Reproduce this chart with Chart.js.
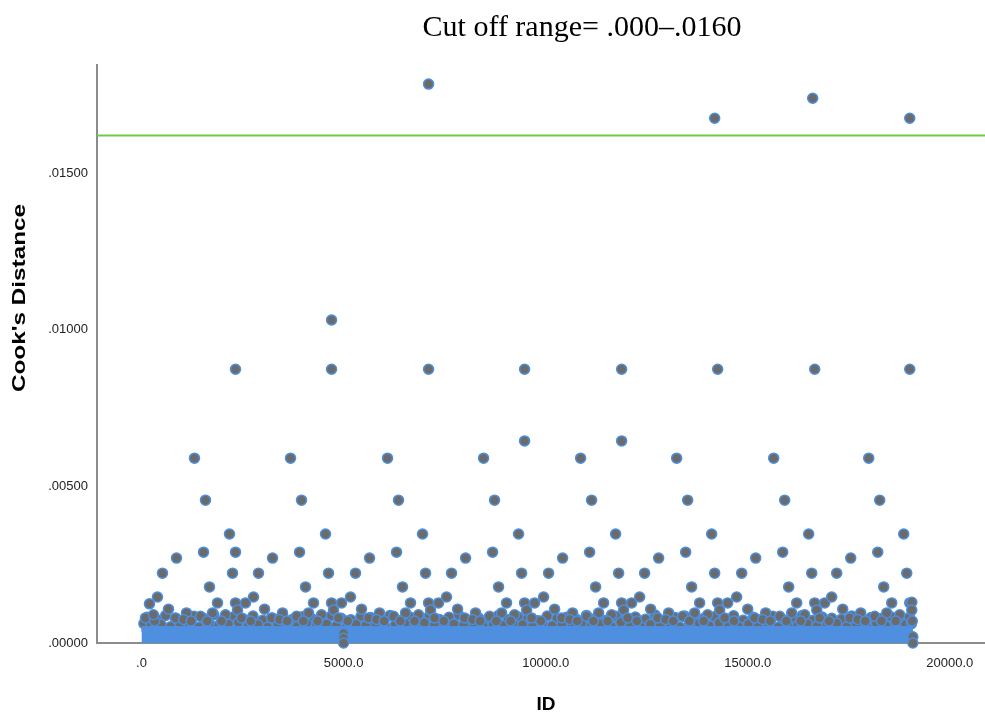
<!DOCTYPE html>
<html>
<head>
<meta charset="utf-8">
<title>Cook's Distance</title>
<script src="https://cdn.jsdelivr.net/npm/chart.js@4.4.1/dist/chart.umd.min.js"></script>
<style>
    html, body { margin: 0; padding: 0; background: #fff; }
    #wrap { width: 985px; height: 712px; }
</style>
</head>
<body>
<div id="wrap"><canvas id="cooks-chart" width="985" height="712"></canvas></div>
<script>
// Text
const chartTitle = 'Cut off range= .000\u2013.0160';
const xTitle = 'ID';
const yTitle = "Cook's Distance";

// Axis ticks
const xTickValues = [0, 5000, 10000, 15000, 20000];
const xTickLabels = ['.0', '5000.0', '10000.0', '15000.0', '20000.0'];
const yTickValues = [0, 0.005, 0.010, 0.015];
const yTickLabels = ['.00000', '.00500', '.01000', '.01500'];

// Cut off line
const cutoffIds = [-1100, 20870];
const cutoffValue = 0.0162;

// Largest cases
const outlierIds = [7103, 14182, 16607, 19008, 4703, 9479, 11880];
const outlierValues = [0.01784, 0.01675, 0.01739, 0.01675, 0.01031, 0.00645, 0.00645];

// Upper cases, one row per repeating block
const caseIds = [
    2327, 1312, 1584, 2178, 1535, 867, 520, 2253, 1683, 396, 1881, 2327, 2575, 669, 1114, 1758, 2377, 842, 1461, 2079, 99, 1040, 1980, 1227, 327, 1627,
    4703, 3688, 3960, 4554, 3911, 3243, 2896, 4629, 4059, 2772, 4257, 4703, 4951, 3045, 3490, 4134, 4753, 3218, 3837, 4455, 2475, 3416, 4356, 3603, 2703, 4003,
    7103, 6088, 6360, 6954, 6311, 5643, 5296, 7029, 6459, 5172, 6657, 7103, 7351, 5445, 5890, 6534, 7153, 5618, 6237, 6855, 4875, 5816, 6756, 6003, 5103, 6403,
    9479, 8464, 8736, 9330, 8687, 8019, 7672, 9405, 8835, 7548, 9033, 9479, 9727, 7821, 8266, 8910, 9529, 7994, 8613, 9231, 7251, 8192, 9132, 8379, 7479, 8779,
    11880, 10865, 11137, 11731, 11088, 10420, 10073, 11806, 11236, 9949, 11434, 11880, 12128, 10222, 10667, 11311, 11930, 10395, 11014, 11632, 9652, 10593, 11533, 10780, 9880, 11180,
    14256, 13241, 13513, 14107, 13464, 12796, 12449, 14182, 13612, 12325, 13810, 14256, 14504, 12598, 13043, 13687, 14306, 12771, 13390, 14008, 12028, 12969, 13909, 13156, 12256, 13556,
    16657, 15642, 15914, 16508, 15865, 15197, 14850, 16583, 16013, 14726, 16211, 16657, 16905, 14999, 15444, 16088, 16707, 15172, 15791, 16409, 14429, 15370, 16310, 15557, 14657, 15957,
    19008, 17993, 18265, 18859, 18216, 17548, 17201, 18934, 18364, 17077, 18562, 19008, 19060, 17350, 17795, 18439, 19058, 17523, 18142, 18760, 16780, 17721, 18661, 17908, 17008, 18308,
    198, 297, 2327, 19070
];
const caseValues = [
    0.00874, 0.00590, 0.00456, 0.00348, 0.00290, 0.00271, 0.00223, 0.00223, 0.00179, 0.00147, 0.00128, 0.00128, 0.00128, 0.00108, 0.00096, 0.00096, 0.00105, 0.00080, 0.00085, 0.00090, 0.00080, 0.00075, 0.00070, 0.00070, 0.00070, 0.00070,
    0.00874, 0.00590, 0.00456, 0.00348, 0.00290, 0.00271, 0.00223, 0.00223, 0.00179, 0.00147, 0.00128, 0.00128, 0.00128, 0.00108, 0.00096, 0.00096, 0.00105, 0.00080, 0.00085, 0.00090, 0.00080, 0.00075, 0.00070, 0.00070, 0.00070, 0.00070,
    0.00874, 0.00590, 0.00456, 0.00348, 0.00290, 0.00271, 0.00223, 0.00223, 0.00179, 0.00147, 0.00128, 0.00128, 0.00128, 0.00108, 0.00096, 0.00096, 0.00105, 0.00080, 0.00085, 0.00090, 0.00080, 0.00075, 0.00070, 0.00070, 0.00070, 0.00070,
    0.00874, 0.00590, 0.00456, 0.00348, 0.00290, 0.00271, 0.00223, 0.00223, 0.00179, 0.00147, 0.00128, 0.00128, 0.00128, 0.00108, 0.00096, 0.00096, 0.00105, 0.00080, 0.00085, 0.00090, 0.00080, 0.00075, 0.00070, 0.00070, 0.00070, 0.00070,
    0.00874, 0.00590, 0.00456, 0.00348, 0.00290, 0.00271, 0.00223, 0.00223, 0.00179, 0.00147, 0.00128, 0.00128, 0.00128, 0.00108, 0.00096, 0.00096, 0.00105, 0.00080, 0.00085, 0.00090, 0.00080, 0.00075, 0.00070, 0.00070, 0.00070, 0.00070,
    0.00874, 0.00590, 0.00456, 0.00348, 0.00290, 0.00271, 0.00223, 0.00223, 0.00179, 0.00147, 0.00128, 0.00128, 0.00128, 0.00108, 0.00096, 0.00096, 0.00105, 0.00080, 0.00085, 0.00090, 0.00080, 0.00075, 0.00070, 0.00070, 0.00070, 0.00070,
    0.00874, 0.00590, 0.00456, 0.00348, 0.00290, 0.00271, 0.00223, 0.00223, 0.00179, 0.00147, 0.00128, 0.00128, 0.00128, 0.00108, 0.00096, 0.00096, 0.00105, 0.00080, 0.00085, 0.00090, 0.00080, 0.00075, 0.00070, 0.00070, 0.00070, 0.00070,
    0.00874, 0.00590, 0.00456, 0.00348, 0.00290, 0.00271, 0.00223, 0.00223, 0.00179, 0.00147, 0.00128, 0.00128, 0.00130, 0.00108, 0.00096, 0.00096, 0.00105, 0.00080, 0.00085, 0.00090, 0.00080, 0.00075, 0.00070, 0.00070, 0.00070, 0.00070,
    0.00125, 0.00090, 0.00290, 0.00070
];

// Low cases sitting on the dense band
const lowIds = [60, 230, 480, 720, 950, 1190, 1420, 1680, 1910, 2150, 2400, 2640, 2880, 3120, 3370, 3600, 3850, 4090, 4330, 4580,
    4820, 5060, 5310, 5550, 5790, 6030, 6280, 6520, 6760, 7000, 7250, 7490, 7730, 7970, 8220, 8460, 8700, 8950, 9190, 9430,
    9670, 9920, 10160, 10400, 10650, 10890, 11130, 11370, 11620, 11860, 12100, 12350, 12590, 12830, 13070, 13320, 13560, 13800, 14050, 14290,
    14530, 14770, 15020, 15260, 15500, 15750, 15990, 16230, 16470, 16720, 16960, 17200, 17450, 17690, 17930, 18180, 18420, 18660, 18900, 19050];
const lowValues = [0.00062, 0.00055, 0.00060, 0.00052, 0.00064, 0.00058, 0.00050, 0.00063, 0.00056, 0.00061, 0.00066, 0.00054, 0.00059, 0.00050, 0.00062, 0.00057, 0.00053, 0.00064, 0.00058, 0.00061,
    0.00055, 0.00049, 0.00060, 0.00056, 0.00063, 0.00052, 0.00059, 0.00062, 0.00054, 0.00065, 0.00058, 0.00051, 0.00061, 0.00057, 0.00063, 0.00053, 0.00060, 0.00056, 0.00064, 0.00059,
    0.00052, 0.00062, 0.00055, 0.00060, 0.00050, 0.00063, 0.00057, 0.00061, 0.00054, 0.00066, 0.00058, 0.00052, 0.00060, 0.00056, 0.00063, 0.00051, 0.00059, 0.00062, 0.00055, 0.00065,
    0.00057, 0.00053, 0.00061, 0.00058, 0.00064, 0.00050, 0.00060, 0.00056, 0.00062, 0.00054, 0.00059, 0.00063, 0.00052, 0.00061, 0.00057, 0.00064, 0.00055, 0.00060, 0.00058, 0.00062];

// Second layer of low cases, a little higher
const midIds = [140, 370, 600, 840, 1070, 1300, 1550, 1790, 2030, 2270, 2520, 2760, 3000, 3240, 3490, 3730, 3970, 4210, 4450, 4700,
    4940, 5180, 5430, 5670, 5910, 6150, 6400, 6640, 6880, 7120, 7370, 7610, 7850, 8090, 8340, 8580, 8820, 9070, 9310, 9550,
    9800, 10040, 10280, 10520, 10770, 11010, 11250, 11500, 11740, 11980, 12220, 12470, 12710, 12950, 13200, 13440, 13680, 13920, 14170, 14410,
    14650, 14890, 15140, 15380, 15620, 15870, 16110, 16350, 16600, 16840, 17080, 17320, 17570, 17810, 18050, 18300, 18540, 18780, 19000];
const midValues = [0.00082, 0.00076, 0.00088, 0.00079, 0.00072, 0.00085, 0.00078, 0.00090, 0.00074, 0.00083, 0.00077, 0.00086, 0.00073, 0.00080, 0.00089, 0.00075, 0.00084, 0.00078, 0.00071, 0.00087,
    0.00079, 0.00074, 0.00085, 0.00081, 0.00076, 0.00088, 0.00072, 0.00083, 0.00078, 0.00086, 0.00075, 0.00082, 0.00089, 0.00073, 0.00080, 0.00077, 0.00087, 0.00074, 0.00084, 0.00079,
    0.00071, 0.00086, 0.00078, 0.00082, 0.00075, 0.00088, 0.00080, 0.00073, 0.00085, 0.00077, 0.00083, 0.00076, 0.00089, 0.00072, 0.00081, 0.00086, 0.00074, 0.00079, 0.00084, 0.00077,
    0.00087, 0.00073, 0.00082, 0.00078, 0.00085, 0.00075, 0.00080, 0.00088, 0.00072, 0.00083, 0.00079, 0.00076, 0.00086, 0.00074, 0.00081, 0.00078, 0.00084, 0.00077, 0.00082];

// Dense band of near-zero cases
const bandIds = [0, 19084];
const bandValues = [0.00045, 0.00045];

// Cases at zero
const zeroIds = [5000, 5000, 5000, 19084, 19084];
const zeroValues = [0.0003, 0.00015, 0, 0.0002, 0];

const dotFill = '#6b6b6b';
const dotEdge = '#4b8fe0';
const bandBlue = '#4f8fdf';

function pairs(ids, values) {
    return ids.map((id, i) => ({ x: id, y: values[i] })).filter(p => p.y !== undefined);
}

function dotSet(data, order) {
    return {
        type: 'scatter',
        data: data,
        backgroundColor: dotFill,
        borderColor: dotEdge,
        borderWidth: 1.5,
        pointRadius: 5,
        pointHoverRadius: 5,
        order: order,
        clip: false
    };
}

// Titles drawn over the canvas
const textPlugin = {
    id: 'texts',
    afterDraw(chart) {
        const ctx = chart.ctx;
        ctx.save();
        ctx.fillStyle = '#000';
        ctx.textAlign = 'center';
        ctx.textBaseline = 'alphabetic';
        ctx.font = '30px "Liberation Serif"';
        ctx.fillText(chartTitle, 582, 36);
        ctx.font = 'bold 19px "Liberation Sans"';
        ctx.fillText(xTitle, 546, 710);
        ctx.translate(25, 298);
        ctx.rotate(-Math.PI / 2);
        ctx.scale(1.35, 1);
        ctx.font = 'bold 18px "Liberation Sans"';
        ctx.fillText(yTitle, 0, 0);
        ctx.restore();
    }
};

const ctx = document.getElementById('cooks-chart').getContext('2d');
new Chart(ctx, {
    type: 'scatter',
    data: {
        datasets: [
            {
                type: 'line',
                data: cutoffIds.map(id => ({ x: id, y: cutoffValue })),
                borderColor: '#6ccb4c',
                borderWidth: 2,
                pointRadius: 0,
                fill: false,
                order: 0
            },
            dotSet(pairs(zeroIds, zeroValues), 1),
            {
                type: 'line',
                data: pairs(bandIds, bandValues),
                borderColor: bandBlue,
                backgroundColor: bandBlue,
                borderWidth: 6,
                pointRadius: 0,
                fill: 'origin',
                order: 2
            },
            dotSet(pairs(outlierIds, outlierValues), 3),
            dotSet(pairs(caseIds, caseValues), 4),
            dotSet(pairs(lowIds, lowValues), 5),
            dotSet(pairs(midIds, midValues), 6)
        ]
    },
    options: {
        responsive: false,
        animation: false,
        events: [],
        layout: {
            autoPadding: false,
            padding: { top: 65, left: 0, right: 0, bottom: 0 }
        },
        plugins: {
            legend: { display: false },
            tooltip: { enabled: false }
        },
        scales: {
            x: {
                type: 'linear',
                min: -1100,
                max: 20870,
                grid: { display: false, drawTicks: false },
                border: { display: true, color: '#8c8c8c', width: 2 },
                afterBuildTicks: function(scale) {
                    scale.ticks = xTickValues.map(v => ({ value: v }));
                },
                afterFit: function(scale) {
                    scale.height = 69;
                    scale.paddingLeft = 0;
                    scale.paddingRight = 0;
                },
                ticks: {
                    padding: 13,
                    maxRotation: 0,
                    autoSkip: false,
                    color: '#222',
                    font: { family: '"Liberation Sans"', size: 13 },
                    callback: function(value, index) {
                        return xTickLabels[index];
                    }
                }
            },
            y: {
                type: 'linear',
                min: 0,
                max: 0.01845,
                grid: { display: false, drawTicks: false },
                border: { display: true, color: '#8c8c8c', width: 2 },
                afterBuildTicks: function(scale) {
                    scale.ticks = yTickValues.map(v => ({ value: v }));
                },
                afterFit: function(scale) {
                    scale.width = 97;
                    scale.paddingTop = 0;
                    scale.paddingBottom = 0;
                },
                ticks: {
                    padding: 9,
                    autoSkip: false,
                    color: '#222',
                    font: { family: '"Liberation Sans"', size: 13 },
                    callback: function(value, index) {
                        return yTickLabels[index];
                    }
                }
            }
        }
    },
    plugins: [textPlugin]
});
</script>
</body>
</html>
